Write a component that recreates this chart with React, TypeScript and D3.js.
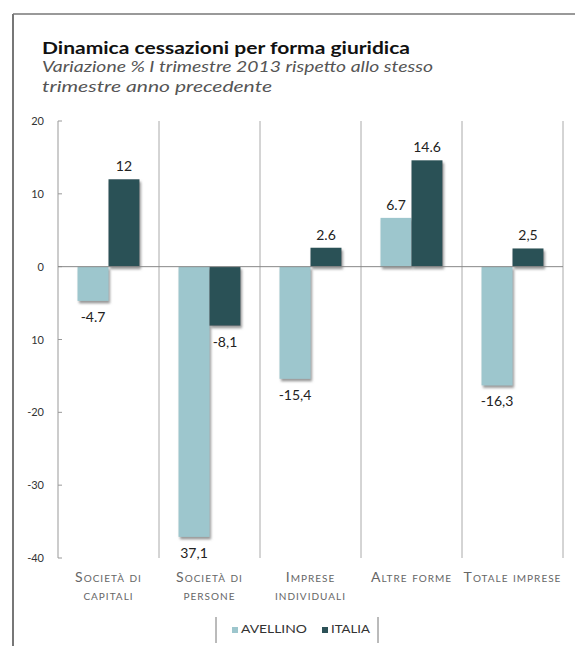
import React from "react";
import * as d3 from "d3";

const categories = ["Società di capitali", "Società di persone", "Imprese individuali", "Altre forme", "Totale imprese"];
const categoryLines = [["Società di", "capitali"], ["Società di", "persone"], ["Imprese", "individuali"], ["Altre forme"], ["Totale imprese"]];
const series = ["AVELLINO", "ITALIA"];
const avellino = [-4.7, -37.1, -15.4, 6.7, -16.3];
const italia = [12, -8.1, 2.6, 14.6, 2.5];
const avellinoLabels = ["-4.7", "37,1", "-15,4", "6.7", "-16,3"];
const italiaLabels = ["12", "-8,1", "2.6", "14.6", "2,5"];
const yTicks = [20, 10, 0, -10, -20, -30, -40];
const yTickLabels = ["20", "10", "0", "10", "-20", "-30", "-40"];

const colors = ["#9DC6CD", "#2C5157"];
const FONT = "Lato, 'Open Sans', sans-serif";

export default function App() {
  const W = 575, H = 646;
  const x = d3.scaleBand<string>().domain(categories).range([58, 563]).paddingInner(0).paddingOuter(0);
  const xi = d3.scaleBand<string>().domain(series).range([0, x.bandwidth()]).paddingInner(0).paddingOuter(0.63);
  const y = d3.scaleLinear().domain([-40, 20]).range([558, 121]);
  const values = [avellino, italia];
  const labels = [avellinoLabels, italiaLabels];
  const y0 = y(0);

  return (
    <svg width={W} height={H} style={{ position: "absolute", left: 0, top: 0 }} fontFamily={FONT}>
      <defs>
        <filter id="shadow" x="-20%" y="-20%" width="150%" height="150%">
          <feDropShadow dx="1.5" dy="2.5" stdDeviation="1" floodColor="#777" floodOpacity="0.75" />
        </filter>
      </defs>
      <rect x={0} y={0} width={W} height={H} fill="#fff" />
      {/* frame */}
      <line x1={13} y1={14} x2={575} y2={14} stroke="#777" strokeWidth={1.5} />
      <line x1={13} y1={14} x2={13} y2={646} stroke="#777" strokeWidth={2} />

      {/* title */}
      <text x={42} y={54} fontSize={17} fontWeight="bold" fill="#111" textLength={368} lengthAdjust="spacingAndGlyphs">
        Dinamica cessazioni per forma giuridica
      </text>
      <text x={42} y={72} fontSize={15} fontStyle="italic" fill="#555" textLength={391} lengthAdjust="spacingAndGlyphs">
        Variazione % I trimestre 2013 rispetto allo stesso
      </text>
      <text x={42} y={92} fontSize={15} fontStyle="italic" fill="#555" textLength={230} lengthAdjust="spacingAndGlyphs">
        trimestre anno precedente
      </text>

      {/* category separators */}
      {categories.map((c) => (
        <line key={c} x1={(x(c) as number) + x.bandwidth()} x2={(x(c) as number) + x.bandwidth()} y1={y(20)} y2={y(-40)} stroke="#aaa" strokeWidth={1} />
      ))}

      {/* y axis */}
      <line x1={58} x2={58} y1={y(20)} y2={y(-40)} stroke="#999" strokeWidth={1} />
      {yTicks.map((t, i) => (
        <g key={t}>
          <line x1={58} x2={62} y1={y(t)} y2={y(t)} stroke="#999" />
          <text x={44} y={y(t) + 4} fontSize={11} textAnchor="end" fill="#333">{yTickLabels[i]}</text>
        </g>
      ))}

      {/* bars */}
      {categories.map((c, ci) =>
        series.map((s, si) => {
          const v = values[si][ci];
          const bx = (x(c) as number) + (xi(s) as number);
          const top = Math.min(y(v), y0);
          const h = Math.abs(y(v) - y0);
          return (
            <rect key={c + s} x={bx} y={top} width={xi.bandwidth()} height={h} fill={colors[si]} filter="url(#shadow)" />
          );
        })
      )}

      {/* zero line */}
      <line x1={58} x2={563} y1={y0} y2={y0} stroke="#888" strokeWidth={1} />

      {/* value labels */}
      {categories.map((c, ci) =>
        series.map((s, si) => {
          const v = values[si][ci];
          const cx = (x(c) as number) + (xi(s) as number) + xi.bandwidth() / 2;
          const ly = v >= 0 ? y(v) - 8 : y(v) + 21;
          return (
            <text key={"l" + c + s} x={cx} y={ly} fontSize={14} textAnchor="middle" fill="#222">{labels[si][ci]}</text>
          );
        })
      )}

      {/* x labels */}
      {categories.map((c, ci) => (
        <text key={"x" + c} textAnchor="middle" fontSize={14} letterSpacing={1} fill="#666" style={{ fontVariant: "small-caps" }}>
          {categoryLines[ci].map((ln, li) => (
            <tspan key={li} x={(x(c) as number) + x.bandwidth() / 2} y={582 + li * 18}>{ln}</tspan>
          ))}
        </text>
      ))}

      {/* legend */}
      <line x1={216} x2={216} y1={617} y2={643} stroke="#777" />
      <line x1={378} x2={378} y1={617} y2={643} stroke="#777" />
      <rect x={232} y={627} width={6} height={6} fill={colors[0]} />
      <text x={241} y={633} fontSize={12} fill="#333" textLength={66} lengthAdjust="spacingAndGlyphs">{series[0]}</text>
      <rect x={322} y={627} width={6} height={6} fill={colors[1]} />
      <text x={331} y={633} fontSize={12} fill="#333" textLength={39} lengthAdjust="spacingAndGlyphs">{series[1]}</text>
    </svg>
  );
}
